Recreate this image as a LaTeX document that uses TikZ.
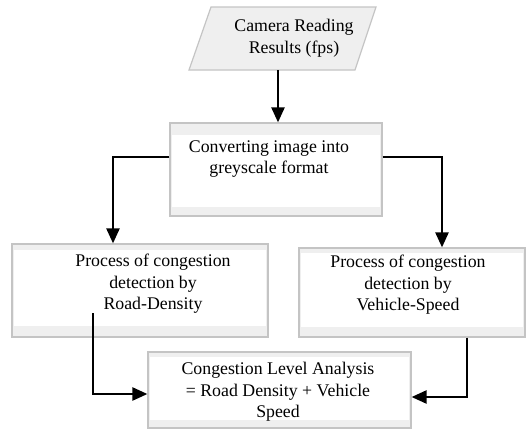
\documentclass[tikz,border=0pt]{standalone}
\usepackage{fontspec}
\setmainfont{Liberation Serif}
\usetikzlibrary{arrows.meta}
\definecolor{boxline}{HTML}{C4C4C4}
\definecolor{boxband}{HTML}{EFEFEF}
\begin{document}
\begin{tikzpicture}[x=1pt,y=-1pt,
  font=\fontsize{17.8}{21.5}\selectfont,
  % framed box: grey bands at top and bottom, white body
  panel/.style n args={4}{draw=boxline, line width=1.2pt, fill=boxband,
    minimum width=#1, minimum height=#2, inner sep=0pt,
    path picture={\fill[white]
      ([xshift=2pt,yshift=-#3]path picture bounding box.north west) rectangle
      ([xshift=-2pt,yshift=#4]path picture bounding box.south east);}},
  label/.style={align=center, inner sep=0pt},
  flow/.style={line width=2.4pt, -{Triangle[width=13pt,length=15pt]}}]
\useasboundingbox (0,0) rectangle (531,429);

% input parallelogram
\filldraw[draw=boxline, line width=1.2pt, fill=boxband]
  (211,7) -- (376,7) -- (355,70) -- (189,70) -- cycle;
\coordinate (camb) at (278,70);
\node[label] (camt) at (294,38) {Camera Reading\\Results (fps)};

% process boxes
\node[panel={212}{93}{12pt}{9pt}] (conv) at (276,169.5) {};
\node[label] (convt) at (269,159) {Converting image into\\greyscale format};

\node[panel={256}{93}{6pt}{11pt}] (ld) at (140,290.5) {};
\node[label] (ldt) at (153,284) {Process of congestion\\detection by\\Road-Density};

\node[panel={226}{89}{5pt}{10pt}] (rd) at (412,292.5) {};
\node[label] (rdt) at (408,285) {Process of congestion\\detection by\\Vehicle-Speed};

\node[panel={263}{76}{5pt}{8pt}] (res) at (279.5,390) {};
\node[label] (rest) at (278,392) {Congestion Level Analysis\\= Road Density + Vehicle\\Speed};

% connectors
\draw[flow] (camb) -- (camb |- conv.north);
\draw[flow] ([yshift=12.5pt]conv.west) -| ([xshift=-27pt]ld.north);
\draw[flow] ([yshift=12.5pt]conv.east) -| ([xshift=30pt]rd.north);
\coordinate (ldout) at (93,313);
\draw[flow] (ldout) |- ([yshift=-4pt]res.west);
\draw[flow] ([xshift=55pt]rd.south) |- ([yshift=-7pt]res.east);
\end{tikzpicture}
\end{document}
